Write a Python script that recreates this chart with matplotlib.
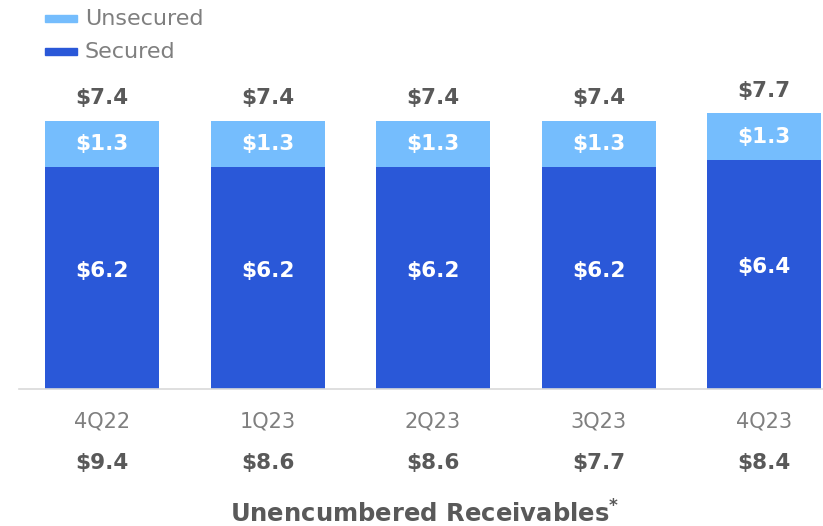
import matplotlib
matplotlib.use('Agg')
import matplotlib.pyplot as plt
from matplotlib.patches import Rectangle

quarters = ['4Q22', '1Q23', '2Q23', '3Q23', '4Q23']
secured = [6.2, 6.2, 6.2, 6.2, 6.4]
unsecured = [1.3, 1.3, 1.3, 1.3, 1.3]
totals = ['$7.4', '$7.4', '$7.4', '$7.4', '$7.7']
unencumbered = ['$9.4', '$8.6', '$8.6', '$7.7', '$8.4']

c_secured = '#2A58D8'
c_unsecured = '#75BDFD'
c_text = '#595959'
c_cat = '#7F7F7F'

plt.rcParams['font.family'] = ['DejaVu Sans']
plt.rcParams['mathtext.fontset'] = 'dejavusans'

W, H = 823, 526
fig = plt.figure(figsize=(W / 100, H / 100), dpi=100)
# axes spans from x=19px to the right edge, baseline at y=389px
ax = fig.add_axes([19 / W, (H - 389) / H, (W - 19) / W, 389 / H])

px_per_unit = 35.8
step = 165.5
ax.set_ylim(0, 389 / px_per_unit)
ax.set_xlim(-(102 - 19) / step, (W - 102) / step)

x = list(range(len(quarters)))
width = 114 / step
ax.bar(x, secured, width=width, color=c_secured)
ax.bar(x, unsecured, width=width, bottom=secured, color=c_unsecured)

for i in x:
    s, u = secured[i], unsecured[i]
    ax.text(i, s / 2 + 0.2, f'${s:.1f}', ha='center', va='center',
            color='white', fontsize=15.5, fontweight='bold')
    ax.text(i, s + u / 2, f'${u:.1f}', ha='center', va='center',
            color='white', fontsize=15.5, fontweight='bold')
    ax.text(i, s + u + 0.62, totals[i], ha='center', va='center',
            color=c_text, fontsize=15.5, fontweight='bold')
    ax.text(i, -0.9, quarters[i], ha='center', va='center',
            color=c_cat, fontsize=15)
    ax.text(i, -2.08, unencumbered[i], ha='center', va='center',
            color=c_text, fontsize=15.5, fontweight='bold')

for side in ['top', 'right', 'left']:
    ax.spines[side].set_visible(False)
ax.spines['bottom'].set_color('#D9D9D9')
ax.spines['bottom'].set_linewidth(1.2)
ax.set_xticks([])
ax.set_yticks([])

# legend drawn by hand at the top left
for yc, col, lab in [(19, c_unsecured, 'Unsecured'), (52, c_secured, 'Secured')]:
    fig.patches.append(Rectangle((45 / W, 1 - (yc + 3) / H), 32 / W, 7 / H,
                                 transform=fig.transFigure, color=col))
    fig.text(85 / W, 1 - yc / H, lab, ha='left', va='center',
             color=c_cat, fontsize=16)

fig.text(425 / W, 1 - 514 / H, 'Unencumbered Receivables$^{\\mathbf{*}}$',
         ha='center', va='center', color=c_text, fontsize=17.5, fontweight='bold')

fig.savefig('out.png', dpi=100)
